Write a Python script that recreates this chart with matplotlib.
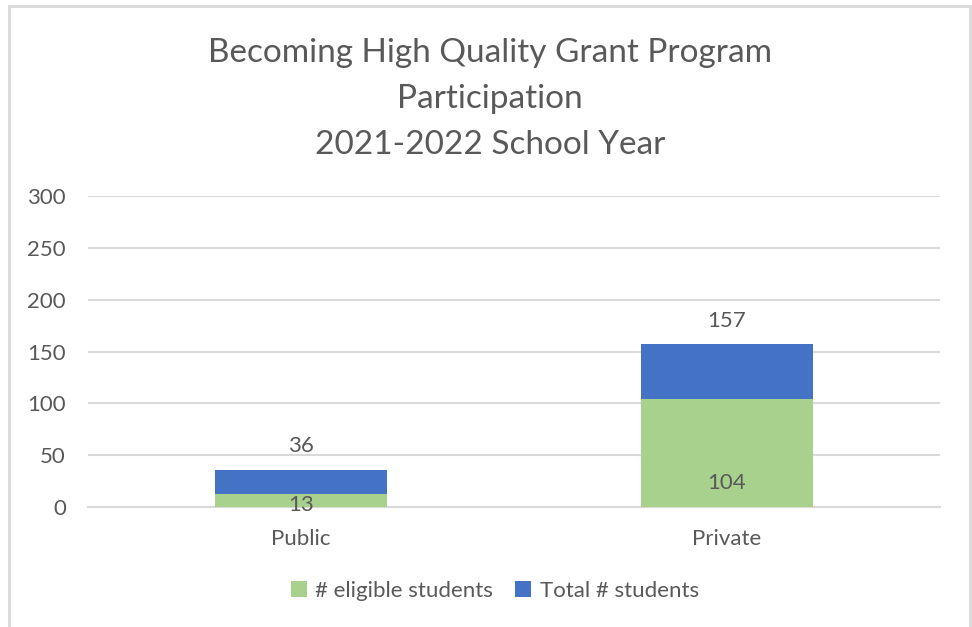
"""
plot.py - Becoming High Quality grant participation chart
"""

import matplotlib
matplotlib.use("Agg")
import matplotlib.pyplot as plt
from matplotlib.patches import Rectangle

#============================================
# DATA
#============================================

categories = ["Public", "Private"]
total_students = [36, 157]
eligible_students = [13, 104]
y_ticks = [0, 50, 100, 150, 200, 250, 300]

TITLE = "Becoming High Quality Grant Program\nParticipation\n2021-2022 School Year"
GREEN = "#A9D18E"
BLUE = "#4472C4"
TEXT = "#595959"
GRID = "#D9D9D9"
FS = 16

plt.rcParams['font.family'] = ['Lato', 'DejaVu Sans']

#============================================
# FIGURE
#============================================

fig = plt.figure(figsize=(9.72, 6.27), dpi=100)
ax = fig.add_axes([88 / 972, 120 / 627, 852 / 972, 311 / 627])

x = list(range(len(categories)))
width = 0.404

# total drawn first, eligible overlapped on top (not stacked)
ax.bar(x, total_students, width, color=BLUE, label="Total # students", zorder=2)
ax.bar(x, eligible_students, width, color=GREEN, label="# eligible students", zorder=3)

# labels: total above bar, eligible at inside base
for xi, t, e in zip(x, total_students, eligible_students):
    ax.annotate(str(t), (xi, t), xytext=(0, 17), textcoords="offset points",
                ha="center", va="center", fontsize=FS, color=TEXT)
    base_off = 17 if e > 30 else 1.5
    ax.annotate(str(e), (xi, 0), xytext=(0, base_off), textcoords="offset points",
                ha="center", va="center", fontsize=FS, color=TEXT, zorder=4)

ax.set_xlim(-0.5, 1.5)
ax.set_ylim(0, 300)
ax.set_yticks(y_ticks)
ax.set_xticks(x)
ax.set_xticklabels(categories)
ax.tick_params(axis="both", length=0, labelsize=FS, labelcolor=TEXT)
ax.tick_params(axis="y", pad=16)
ax.tick_params(axis="x", pad=16)
ax.yaxis.grid(True, color=GRID, linewidth=1.5, zorder=0)
ax.set_axisbelow(True)
for s in ["top", "right", "left"]:
    ax.spines[s].set_visible(False)
ax.spines["bottom"].set_color(GRID)
ax.spines["bottom"].set_linewidth(1.5)

# legend: eligible first
h, l = ax.get_legend_handles_labels()
fig.legend(h[::-1], l[::-1], loc="center", bbox_to_anchor=(495 / 972, 36 / 627),
           ncol=2, frameon=False, fontsize=FS, labelcolor=TEXT,
           handlelength=0.7, handleheight=0.7, handletextpad=0.4, columnspacing=1.0)

fig.text(490 / 972, 1 - 99 / 627, TITLE, ha="center", va="center",
         fontsize=24, color=TEXT, linespacing=1.65)

# chart border
fig.patches.append(Rectangle((9 / 972, -0.05), 961 / 972, 1.05 - 6 / 627,
                             transform=fig.transFigure, fill=False,
                             edgecolor=GRID, linewidth=2))

fig.savefig("out.png", dpi=100)
